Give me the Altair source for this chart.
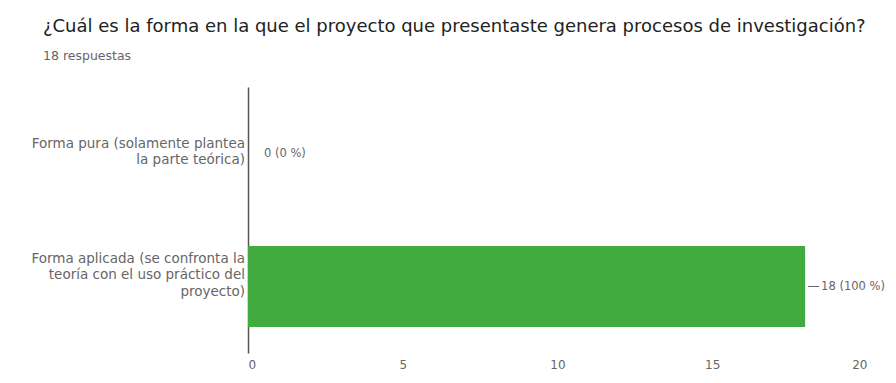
import altair as alt
import pandas as pd

categories = [
    "Forma pura (solamente plantea\nla parte teórica)",
    "Forma aplicada (se confronta la\nteoría con el uso práctico del\nproyecto)",
]
counts = [0, 18]
percents = ["0 %", "100 %"]
ticks = [0, 5, 10, 15, 20]

df = pd.DataFrame({"cat": categories, "count": counts, "pct": percents})
df["label"] = [f"{c} ({p})" for c, p in zip(counts, percents)]
df["idx"] = range(len(df))

font = "DejaVu Sans"
ysort = categories
yscale = alt.Scale(paddingInner=0.39, paddingOuter=0.195)
ycat = alt.Y("cat:N", sort=ysort, title=None, scale=yscale)

x = alt.X("count:Q", scale=alt.Scale(domain=[0, 20], nice=False),
          axis=alt.Axis(values=ticks, domain=False, ticks=False, grid=False,
                        labelPadding=6, labelFontSize=12, labelColor="#666",
                        labelFont=font, title=None))
y = alt.Y("cat:N", sort=ysort, scale=yscale,
          axis=alt.Axis(domain=True, domainColor="#555", domainWidth=1.5,
                        ticks=False, labels=False, title=None))

base = alt.Chart(df)

bars = base.mark_bar(color="#41ab3f").encode(x=x, y=y)

leader = base.transform_filter("datum.count > 0").mark_rule(
    color="#666", strokeWidth=1, xOffset=3, x2Offset=14
).encode(x="count:Q", x2="count:Q", y=ycat)

labels = base.mark_text(align="left", baseline="middle", dx=16, fontSize=11.5,
                        color="#666", font=font).encode(
    x="count:Q", y=ycat, text="label:N")

def ylab(i, dy):
    return base.transform_filter(f"datum.idx == {i}").mark_text(
        align="right", baseline="middle", fontSize=13.5, color="#666", font=font,
        lineBreak="\n", lineHeight=16.5, dy=dy
    ).encode(x=alt.value(-3), y=ycat, text="cat:N")

chart = alt.layer(bars, leader, labels, ylab(0, -10), ylab(1, -28)).properties(
    width=619, height=266,
    padding={"left": 240, "top": 79, "right": 21, "bottom": 22},
    autosize=alt.AutoSizeParams(type="none"),
    title=alt.TitleParams(
        text="¿Cuál es la forma en la que el proyecto que presentaste genera procesos de investigación?",
        subtitle="18 respuestas",
        anchor="start", frame="group", dx=-205, offset=25,
        font=font, fontSize=18, fontWeight="normal", color="#222",
        subtitleFont=font, subtitleFontSize=12.5, subtitleColor="#666",
        subtitlePadding=14,
    ),
).configure_view(stroke=None)

chart.save("out.html", embed_options={"renderer": "svg", "actions": False})
